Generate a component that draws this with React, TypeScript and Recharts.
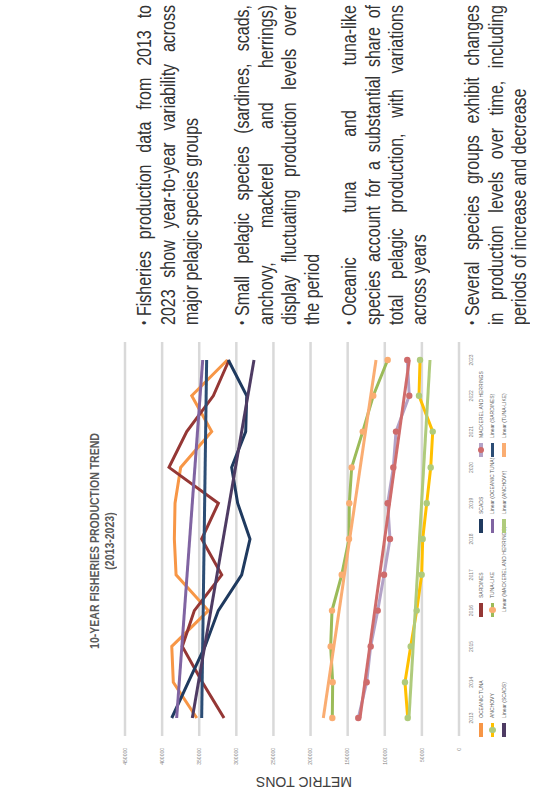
import React from "react";
import { CartesianGrid, Legend, Line, LineChart, XAxis, YAxis } from "recharts";

const years = ["2013", "2014", "2015", "2016", "2017", "2018", "2019", "2020", "2021", "2022", "2023"];

const oceanicTuna = [353300, 384900, 387000, 337700, 381200, 383500, 382600, 375000, 333200, 360100, 312100];
const sardines = [316600, 345800, 372800, 356600, 319700, 346700, 324200, 390700, 366800, 331000, 309800];
const scads = [387000, 364700, 342200, 324300, 292800, 281600, 298200, 306300, 287400, 286000, 310800];
const mackerelHerrings = [135700, 124400, 119000, 109500, 101000, 93000, 96100, 88500, 84900, 67000, 69700];
const anchovy = [69100, 72800, 65100, 57000, 50300, 48900, 43500, 38100, 35400, 53900, 52500];
const tunaLike = [170700, 170200, 172900, 171100, 158000, 148200, 147800, 144600, 129700, 115500, 96100];

// linear trendlines: value at 2013 and at 2023
const trendOceanicTuna = [380400, 345300];
const trendSardines = [346700, 340000];
const trendScads = [359300, 276200];
const trendMackerelHerrings = [133400, 67000];
const trendAnchovy = [67400, 39100];
const trendTunaLike = [182800, 111800];

const valueTicks = [0, 50000, 100000, 150000, 200000, 250000, 300000, 350000, 400000, 450000];

// first line of each bullet carries the bullet sign
const bullets = [
  ["Fisheries production data from 2013 to", "2023 show year-to-year variability across", "major pelagic species groups"],
  [
    "Small pelagic species (sardines, scads,",
    "anchovy, mackerel and herrings)",
    "display fluctuating production levels over",
    "the period"
  ],
  [
    "Oceanic tuna and tuna-like",
    "species account for a substantial share of",
    "total pelagic production, with variations",
    "across years"
  ],
  ["Several species groups exhibit changes", "in production levels over time, including", "periods of increase and decrease"]
];
const bulletTops = [133, 231, 338, 461];

type Series = {
  key: string;
  name: string;
  color: string;
  marker?: string;
  values?: number[];
  ends?: number[];
};

const dataSeries: Series[] = [
  { key: "oceanicTuna", name: "OCEANIC TUNA", color: "#F79646", values: oceanicTuna },
  { key: "sardines", name: "SARDINES", color: "#953735", values: sardines },
  { key: "scads", name: "SCADS", color: "#1F3A5F", values: scads },
  { key: "mackerelHerrings", name: "MACKEREL AND HERRINGS", color: "#B3A2C7", marker: "#CF6B6B", values: mackerelHerrings },
  { key: "anchovy", name: "ANCHOVY", color: "#FFC000", marker: "#AFCB7C", values: anchovy },
  { key: "tunaLike", name: "TUNA-LIKE", color: "#9BBB59", marker: "#FAAD72", values: tunaLike }
];

const trendSeries: Series[] = [
  { key: "tOceanicTuna", name: "Linear (OCEANIC TUNA)", color: "#8064A2", ends: trendOceanicTuna },
  { key: "tSardines", name: "Linear (SARDINES)", color: "#2C4D75", ends: trendSardines },
  { key: "tScads", name: "Linear (SCADS)", color: "#4E3B63", ends: trendScads },
  { key: "tMackerelHerrings", name: "Linear (MACKEREL AND HERRINGS)", color: "#CF6B6B", ends: trendMackerelHerrings },
  { key: "tAnchovy", name: "Linear (ANCHOVY)", color: "#AFCB7C", ends: trendAnchovy },
  { key: "tTunaLike", name: "Linear (TUNA-LIKE)", color: "#FAAD72", ends: trendTunaLike }
];

const data = years.map((year, i) => {
  const row: Record<string, string | number | null> = { year };
  dataSeries.forEach((s) => {
    row[s.key] = s.values![i];
  });
  trendSeries.forEach((s) => {
    row[s.key] = i === 0 ? s.ends![0] : i === years.length - 1 ? s.ends![1] : null;
  });
  return row;
});

const legendItems = [...dataSeries, ...trendSeries];

const sans = "'Liberation Sans', Arial, sans-serif";
// Arial Narrow look: regular Arial squeezed sideways
const narrowScale = 0.82;

function LegendGrid() {
  return (
    <div
      style={{
        display: "grid",
        gridTemplateColumns: "120px 84px 76px 130px",
        gridAutoRows: "11.5px",
        fontFamily: sans,
        fontSize: 5,
        color: "#595959"
      }}
    >
      {legendItems.map((s) => (
        <div key={s.key} style={{ display: "flex", alignItems: "center", whiteSpace: "nowrap" }}>
          <span
            style={{
              position: "relative",
              display: "inline-block",
              width: 14,
              height: 3.5,
              background: s.color,
              marginRight: 5
            }}
          >
            {s.marker && (
              <span
                style={{
                  position: "absolute",
                  left: 3.75,
                  top: -1.5,
                  width: 6.5,
                  height: 6.5,
                  borderRadius: "50%",
                  background: s.marker
                }}
              />
            )}
          </span>
          <span>{s.name}</span>
        </div>
      ))}
    </div>
  );
}

function AxisTitle({ viewBox }: any) {
  const cx = viewBox.x + 11;
  const cy = viewBox.y + viewBox.height / 2 + 12;
  return (
    <text
      x={cx}
      y={cy}
      transform={`rotate(-90 ${cx} ${cy})`}
      textAnchor="middle"
      dominantBaseline="central"
      fontFamily={sans}
      fontSize={14}
      fill="#404040"
    >
      METRIC TONS
    </text>
  );
}

export default function App() {
  return (
    <div style={{ position: "absolute", left: 0, top: 0, width: 535, height: 793, overflow: "hidden", background: "#fff" }}>
      <div
        style={{
          position: "absolute",
          left: 0,
          top: 0,
          width: 793,
          height: 535,
          transformOrigin: "0 0",
          transform: "translateY(793px) rotate(-90deg)",
          background: "#fff"
        }}
      >
        <div
          style={{
            position: "absolute",
            left: 0,
            top: 87,
            width: 504,
            textAlign: "center",
            fontFamily: sans,
            fontWeight: "bold",
            fontSize: 13,
            lineHeight: "15px",
            color: "#595959",
            transformOrigin: "252px 0",
            transform: "scaleX(0.81)"
          }}
        >
          <div>10-YEAR FISHERIES PRODUCTION TREND</div>
          <div>(2013-2023)</div>
        </div>

        <div style={{ position: "absolute", left: 0, top: 0 }}>
          <LineChart width={470} height={530} data={data} margin={{ top: 125, right: 19, bottom: 57, left: 0 }}>
            <CartesianGrid vertical={false} stroke="#D9D9D9" strokeWidth={2.5} />
            <XAxis
              dataKey="year"
              interval={0}
              padding={{ left: 18, right: 18 }}
              height={14}
              axisLine={false}
              tickLine={false}
              tickMargin={4}
              tick={{ fontSize: 5, fill: "#7F7F7F", fontFamily: sans }}
            />
            <YAxis
              type="number"
              domain={[0, 450000]}
              ticks={valueTicks}
              interval={0}
              width={57}
              axisLine={false}
              tickLine={false}
              tickMargin={6}
              tick={{ fontSize: 5, fill: "#7F7F7F", fontFamily: sans }}
              label={<AxisTitle />}
            />
            <Legend
              layout="vertical"
              verticalAlign="middle"
              align="center"
              wrapperStyle={{ left: 56, top: 475, width: 420 }}
              content={() => <LegendGrid />}
            />
            {dataSeries.map((s) => (
              <Line
                key={s.key}
                dataKey={s.key}
                name={s.name}
                type="linear"
                stroke={s.color}
                strokeWidth={3}
                dot={s.marker ? { r: 3.2, fill: s.marker, stroke: s.marker, strokeWidth: 0 } : false}
                activeDot={false}
                isAnimationActive={false}
              />
            ))}
            {trendSeries.map((s) => (
              <Line
                key={s.key}
                dataKey={s.key}
                name={s.name}
                type="linear"
                stroke={s.color}
                strokeWidth={3}
                dot={false}
                activeDot={false}
                connectNulls
                isAnimationActive={false}
              />
            ))}
          </LineChart>
        </div>

        {bullets.map((lines, p) => (
          <div
            key={p}
            style={{
              position: "absolute",
              left: 468,
              top: bulletTops[p],
              width: 320 / narrowScale,
              fontFamily: sans,
              fontSize: 19.5,
              lineHeight: "23px",
              color: "#333333",
              transformOrigin: "0 0",
              transform: `scaleX(${narrowScale})`
            }}
          >
            {lines.map((line, i) => {
              const last = i === lines.length - 1;
              return (
                <div
                  key={i}
                  style={{ textAlign: last ? "left" : "justify", textAlignLast: last ? "left" : "justify", whiteSpace: "nowrap" }}
                >
                  {i === 0 && (
                    <span style={{ display: "inline-block", width: 11, fontSize: 15, position: "relative", top: -2 }}>•</span>
                  )}
                  {line}
                </div>
              );
            })}
          </div>
        ))}
      </div>
    </div>
  );
}
